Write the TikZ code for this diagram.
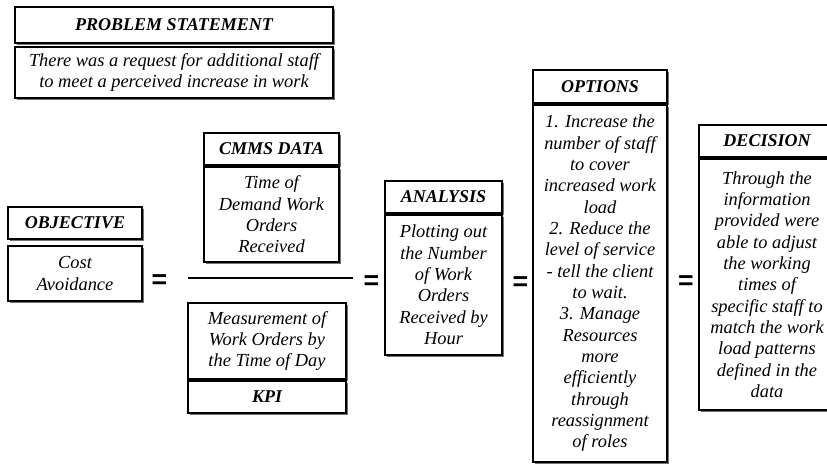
\documentclass[tikz,border=0pt]{standalone}
\usepackage{fontspec}
\setmainfont{Liberation Serif}
\setsansfont{Liberation Sans}
\usetikzlibrary{shadows}

\begin{document}
\begin{tikzpicture}[x=0.75pt, y=-0.75pt,
  font=\fontsize{13.8pt}{16pt}\selectfont\itshape,
  box/.style={draw, line width=0.8pt, fill=white, inner sep=0pt, align=center,
    drop shadow={shadow xshift=1.3pt, shadow yshift=-1.3pt, fill=black!55, opacity=1}},
  hdr/.style={box, font=\fontsize{13.5pt}{16pt}\selectfont\bfseries\itshape, minimum height=24pt},
  eqsign/.style={font=\sffamily\bfseries\fontsize{20pt}{20pt}\selectfont, inner sep=0pt}]
\clip (0,0) rectangle (827,464);

% problem statement
\node[hdr, minimum width=238.5pt, minimum height=27pt] (probhead) at (174,25) {PROBLEM STATEMENT};
\node[box, minimum width=238.5pt, minimum height=38.25pt] (probbody) at (174,72.5) {There was a request for additional staff\\to meet a perceived increase in work};

% objective
\node[hdr, minimum width=100.5pt] (objhead) at (75,223) {OBJECTIVE};
\node[box, minimum width=100.5pt, minimum height=41.25pt] (objbody) at (75,273.5) {Cost\\Avoidance};

% cmms data over kpi
\node[hdr, minimum width=101.25pt] (cmmshead) at (271.5,149) {CMMS DATA};
\node[box, minimum width=101.25pt, minimum height=71.25pt] (cmmsbody) at (271.5,214.5) {Time of\\Demand Work\\Orders\\Received};
\coordinate (barL) at (188,278);
\coordinate (barR) at (353,278);
\draw[line width=2pt] (barL) -- (barR);
\node[box, minimum width=118.5pt, minimum height=57pt] (measbody) at (267,341) {Measurement of\\Work Orders by\\the Time of Day};
\node[hdr, minimum width=118.5pt] (kpi) at (267,397) {KPI};

% analysis
\node[hdr, minimum width=87.75pt] (anahead) at (443.5,197) {ANALYSIS};
\node[box, minimum width=87.75pt, minimum height=105pt] (anabody) at (443.5,285) {Plotting out\\the Number\\of Work\\Orders\\Received by\\Hour};

% options
\node[hdr, minimum width=100.5pt, minimum height=24.75pt] (opthead) at (600,86.5) {OPTIONS};
\node[box, minimum width=100.5pt, minimum height=267.75pt] (optbody) at (600,283.5) {1. Increase the\\number of staff\\to cover\\increased work\\load\\2. Reduce the\\level of service\\- tell the client\\to wait.\\3. Manage\\Resources\\more\\efficiently\\through\\reassignment\\of roles};

% decision
\node[hdr, minimum width=102pt] (dechead) at (767,141) {DECISION};
\node[box, minimum width=102pt, minimum height=188.25pt] (decbody) at (767,284.5) {Through the\\information\\provided were\\able to adjust\\the working\\times of\\specific staff to\\match the work\\load patterns\\defined in the\\data};

% equals signs between the terms
\node[eqsign] (eqA) at (159.5,282) {=};
\node[eqsign] (eqB) at (371.5,283) {=};
\node[eqsign] (eqC) at (520.5,284) {=};
\node[eqsign] (eqD) at (686,283) {=};
\end{tikzpicture}
\end{document}
